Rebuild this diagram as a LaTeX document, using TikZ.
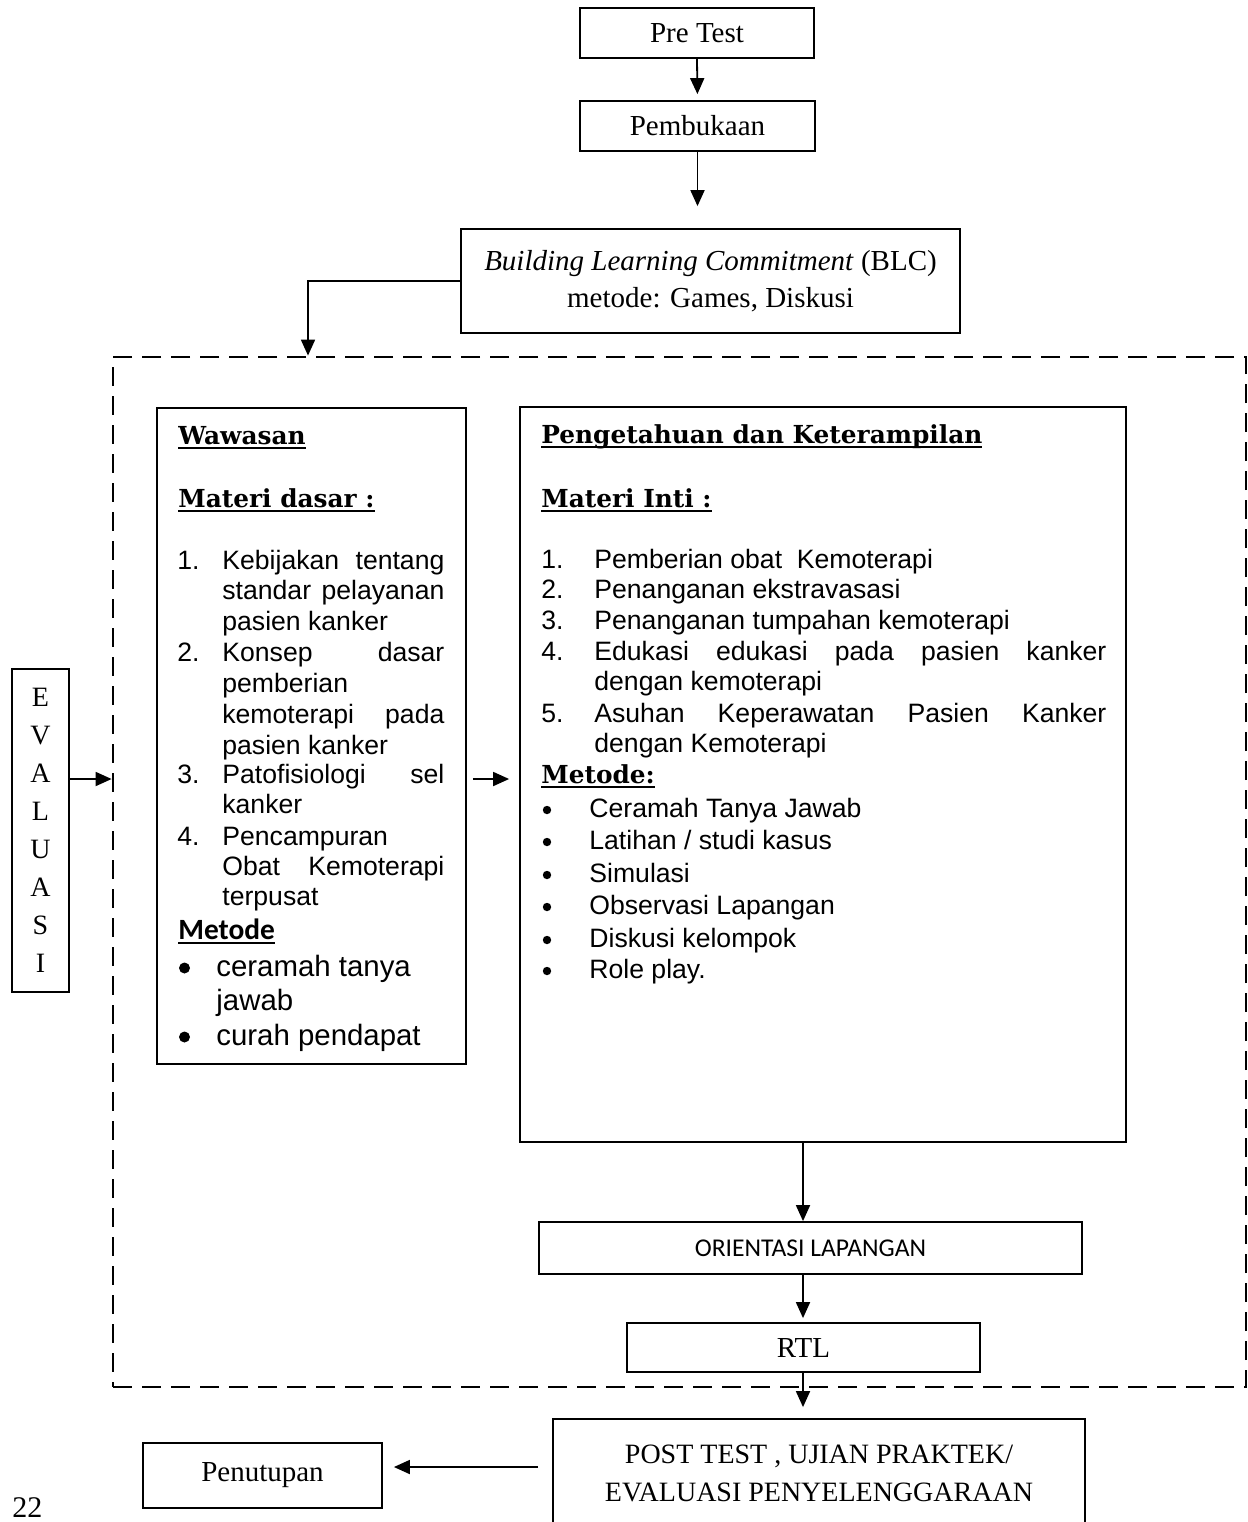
\documentclass[tikz,border=0pt]{standalone}
\usepackage{fontspec}
\setmainfont{Liberation Serif}
\newfontfamily\arialfont{Liberation Sans}
\newfontfamily\bookfont{DejaVu Serif}
\newfontfamily\califont{Carlito}
\usetikzlibrary{arrows.meta}

% underline with a fixed depth
\newcommand{\ulbox}[1]{\setbox0\hbox{#1}\rlap{\rule[-2.5pt]{\wd0}{0.9pt}}\box0}

\tikzset{
  flowbox/.style={draw, line width=0.9pt, inner sep=0pt, align=center,
    font=\fontsize{14.5}{18.5}\selectfont},
  bigbox/.style={draw, line width=0.9pt, inner sep=0pt},
  arr/.style={line width=0.9pt, -{Triangle[width=7pt,length=8pt]}},
  headtxt/.style={anchor=base west, inner sep=0pt,
    font=\bookfont\bfseries\fontsize{12.4}{15}\selectfont},
  itemtxt/.style={anchor=base west, inner sep=0pt,
    font=\arialfont\fontsize{13.3}{15.5}\selectfont},
  dot/.style={circle, fill, inner sep=0pt},
}

\begin{document}
\begin{tikzpicture}[x=0.5pt, y=-0.5pt]
    \clip (0,0) rectangle (1248,1522);

    % ====== Flow boxes ======
    \node[flowbox, minimum width=117pt, minimum height=25pt] (pretest) at (697,33) {Pre Test};
    \node[flowbox, minimum width=117.5pt, minimum height=25pt] (pembukaan) at (697.5,126) {Pembukaan};
    \node[flowbox, minimum width=249.5pt, minimum height=52pt] (blc) at (710.5,281)
        {\textit{Building Learning Commitment} (BLC)\\metode: Games, Diskusi};

    % ====== Dashed frame ======
    \node[bigbox, line width=1.4pt, dash pattern=on 9.5pt off 5pt,
        minimum width=566.5pt, minimum height=515pt] (frame) at (679.5,872) {};

    \node[flowbox, minimum width=28.5pt, minimum height=161.5pt,
        font=\fontsize{14}{19}\selectfont] (evaluasi) at (40.5,830.5) {E\\V\\A\\L\\U\\A\\S\\I};

    % ====== Wawasan ======
    \node[bigbox, minimum width=154.5pt, minimum height=328pt] (wawasan) at (311.5,736) {};
    \node[headtxt] (wHead) at (178,444) {\ulbox{Wawasan}};
    \node[headtxt] (wMateri) at (178,507) {\ulbox{Materi dasar :}};
    \foreach \yy/\nn/\txt/\al in {
        569/1./{Kebijakan tentang}/s, 599//{standar pelayanan}/s, 630//{pasien kanker}/l,
        661/2./{Konsep dasar}/s, 692//{pemberian}/l, 723//{kemoterapi pada}/s,
        754//{pasien kanker}/l, 783/3./{Patofisiologi sel}/s, 813//{kanker}/l,
        845/4./{Pencampuran}/l, 875//{Obat Kemoterapi}/s, 905//{terpusat}/l} {
        \node[itemtxt] (wNum\yy) at (177,\yy) {\nn};
        \node[itemtxt] (wTxt\yy) at (222,\yy) {\makebox[111pt][\al]{\txt}};
    }
    \node[itemtxt, font=\califont\bfseries\fontsize{14.7}{17}\selectfont] (wMetode) at (178,939) {\ulbox{Metode}};
    \foreach \yy in {976,1045} {
        \node[dot, minimum size=5.5pt] (wBul\yy) at (184.5,{\yy-8}) {};
    }
    \foreach \yy/\txt in {976/{ceramah tanya}, 1010/{jawab}, 1045/{curah pendapat}} {
        \node[itemtxt, font=\arialfont\fontsize{14.7}{17}\selectfont] (wMet\yy) at (216,\yy) {\txt};
    }

    % ====== Pengetahuan dan Keterampilan ======
    \node[bigbox, minimum width=303pt, minimum height=367.5pt] (inti) at (823,774.5) {};
    \node[headtxt] (iHead) at (541,443) {\ulbox{Pengetahuan dan Keterampilan}};
    \node[headtxt] (iMateri) at (541,507) {\ulbox{Materi Inti :}};
    \foreach \yy/\nn/\txt/\al in {
        568/1./{Pemberian obat\ \ Kemoterapi}/l, 598/2./{Penanganan ekstravasasi}/l,
        629/3./{Penanganan tumpahan kemoterapi}/l, 660/4./{Edukasi edukasi pada pasien kanker}/s,
        690//{dengan kemoterapi}/l, 722/5./{Asuhan Keperawatan Pasien Kanker}/s,
        752//{dengan Kemoterapi}/l} {
        \node[itemtxt] (iNum\yy) at (541,\yy) {\nn};
        \node[itemtxt] (iTxt\yy) at (594,\yy) {\makebox[256pt][\al]{\txt}};
    }
    \node[headtxt] (iMetode) at (541,783) {\ulbox{Metode:}};
    \foreach \yy/\txt in {817/{Ceramah Tanya Jawab}, 849/{Latihan / studi kasus}, 882/{Simulasi},
        914/{Observasi Lapangan}, 947/{Diskusi kelompok}, 978/{Role play.}} {
        \node[dot, minimum size=4.2pt] (iBul\yy) at (547,{\yy-7}) {};
        \node[itemtxt] (iMet\yy) at (589,\yy) {\txt};
    }

    % ====== Lower boxes ======
    \node[flowbox, minimum width=271.5pt, minimum height=26pt,
        font=\califont\fontsize{12.8}{15}\selectfont] (orient) at (810.5,1248) {ORIENTASI LAPANGAN};
    \node[flowbox, minimum width=176.5pt, minimum height=24.5pt] (rtl) at (803.5,1347.5) {RTL};
    \node[flowbox, minimum width=266pt, minimum height=54.5pt,
        font=\fontsize{14}{19}\selectfont] (post) at (819,1473.5)
        {POST TEST , UJIAN PRAKTEK/\\EVALUASI PENYELENGGARAAN};
    \node[flowbox, minimum width=119.5pt, minimum height=32.5pt] (penutupan) at (262.5,1475.5) {Penutupan};
    \node[anchor=base west, inner sep=0pt, font=\fontsize{15}{18}\selectfont] (pagenum) at (12,1517) {22};

    % ====== Connectors ======
    \coordinate (midrow) at (0,779);
    \coordinate (endrow) at (0,1467);
    \coordinate (flowcol) at (803,0);
    \coordinate (blcdrop) at (308,0);

    \draw[arr, shorten >=3pt] (pretest.south) -- (pembukaan.north);
    \draw[arr, shorten >=11pt] (pembukaan.south) -- (blc.north -| pembukaan.south);
    \draw[arr] (blc.west) -| (frame.north -| blcdrop);
    \draw[arr] (evaluasi.east |- midrow) -- (frame.west |- midrow);
    \draw[arr, shorten <=3pt, shorten >=5pt] (wawasan.east |- midrow) -- (inti.west |- midrow);
    \draw[arr] (inti.south -| flowcol) -- (orient.north -| flowcol);
    \draw[arr, shorten >=2pt] (orient.south -| flowcol) -- (rtl.north -| flowcol);
    \draw[arr, shorten >=5.5pt] (rtl.south -| flowcol) -- (post.north -| flowcol);
    \draw[arr, shorten <=7pt, shorten >=5.5pt] (post.west |- endrow) -- (penutupan.east |- endrow);

\end{tikzpicture}
\end{document}
